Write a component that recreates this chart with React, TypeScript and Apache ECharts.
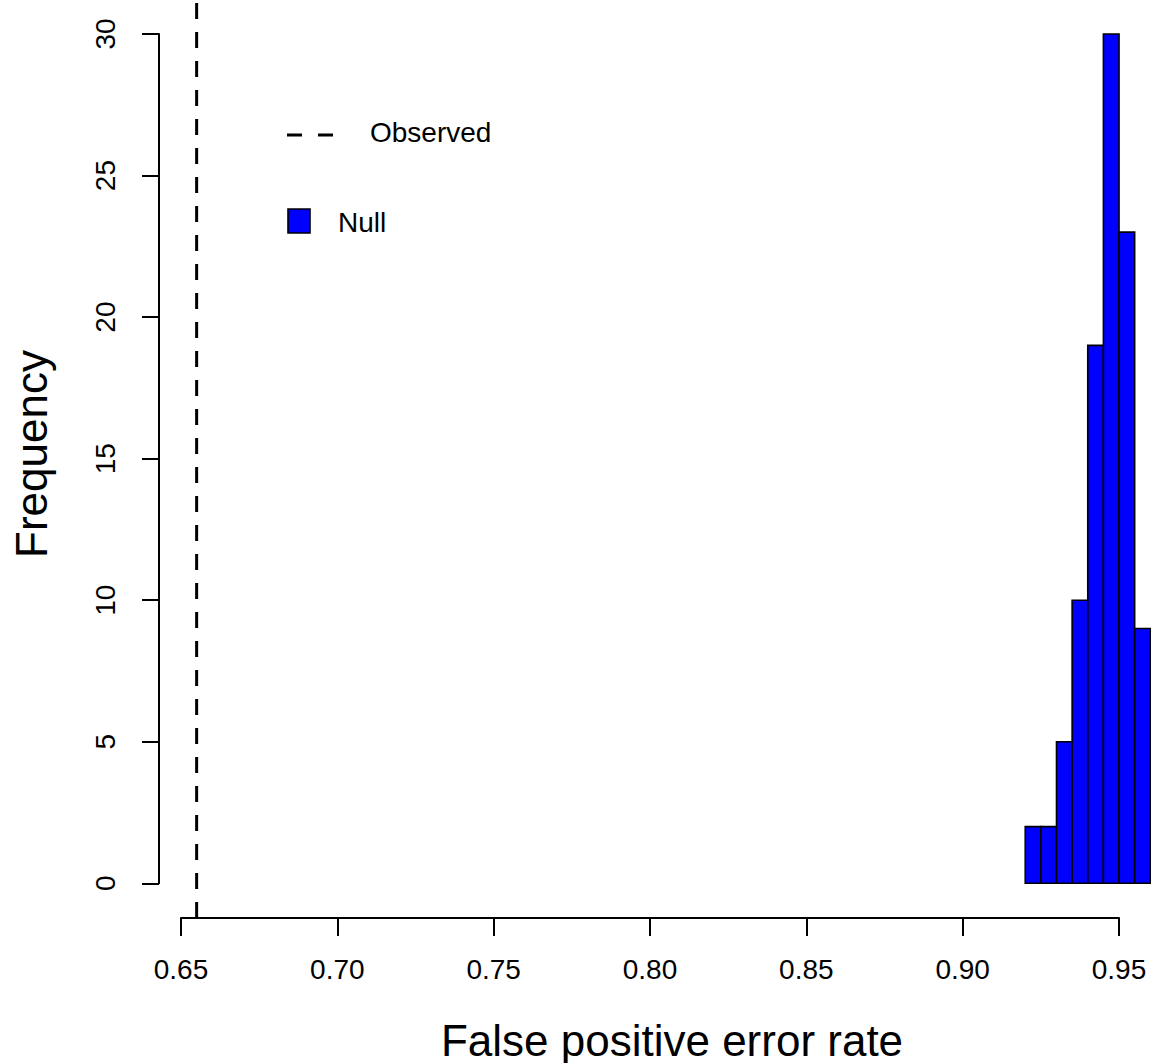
import React, { useEffect, useRef } from "react";
import * as echarts from "echarts";

// Histogram of the null distribution (bin edges and frequencies)
const binEdges = [0.92, 0.925, 0.93, 0.935, 0.94, 0.945, 0.95, 0.955, 0.96];
const counts = [2, 2, 5, 10, 19, 30, 23, 9];
// Observed value (dashed vertical line)
const observed = 0.655;
// Axis ticks
const xTicks = [0.65, 0.7, 0.75, 0.8, 0.85, 0.9, 0.95];
const yTicks = [0, 5, 10, 15, 20, 25, 30];
const xTitle = "False positive error rate";
const yTitle = "Frequency";
const legendLabels = ["Observed", "Null"];

const FONT = "'Liberation Sans', Arial, Helvetica, sans-serif";
const dataXMin = 0.65;
const dataXMax = 0.96;
const dataYMin = -1.226;
const dataYMax = 31.2;

export default function App() {
  const ref = useRef<HTMLDivElement>(null);

  useEffect(() => {
    if (!ref.current) return;
    const chart = echarts.init(ref.current, undefined, { renderer: "svg" });

    const histData = counts.map((c, i) => [binEdges[i], binEdges[i + 1], c]);

    const axisLineStyle = { color: "#000", width: 2 };

    const option: any = {
      animation: false,
      backgroundColor: "#ffffff",
      grid: [
        { left: 181, top: 0, width: 969.3, height: 918 },
        { left: 159, top: 34, width: 20, height: 849.3 },
        { left: 181, top: 0, width: 938, height: 918 },
      ],
      xAxis: [
        { gridIndex: 0, type: "value", min: dataXMin, max: dataXMax, show: false },
        { gridIndex: 1, type: "value", min: 0, max: 1, show: false },
        {
          gridIndex: 2,
          type: "value",
          min: xTicks[0],
          max: xTicks[xTicks.length - 1],
          interval: 0.05,
          axisLine: { show: true, onZero: false, lineStyle: axisLineStyle },
          axisTick: { show: true, length: 18, lineStyle: axisLineStyle },
          axisLabel: {
            show: true,
            margin: 37,
            fontSize: 28,
            fontFamily: FONT,
            color: "#000",
            showMinLabel: true,
            showMaxLabel: true,
            formatter: (v: number) => v.toFixed(2),
          },
          splitLine: { show: false },
        },
      ],
      yAxis: [
        { gridIndex: 0, type: "value", min: dataYMin, max: dataYMax, show: false },
        {
          gridIndex: 1,
          type: "value",
          position: "left",
          min: yTicks[0],
          max: yTicks[yTicks.length - 1],
          interval: 5,
          axisLine: { show: true, onZero: false, lineStyle: axisLineStyle },
          axisTick: { show: true, length: 17, lineStyle: axisLineStyle },
          axisLabel: {
            show: true,
            rotate: 90,
            margin: 40,
            fontSize: 28,
            fontFamily: FONT,
            color: "#000",
            showMinLabel: true,
            showMaxLabel: true,
          },
          splitLine: { show: false },
        },
        { gridIndex: 2, type: "value", min: 0, max: 1, show: false },
      ],
      series: [
        {
          type: "custom",
          name: legendLabels[1],
          xAxisIndex: 0,
          yAxisIndex: 0,
          clip: false,
          encode: { x: [0, 1], y: 2 },
          data: histData,
          renderItem: (params: any, api: any) => {
            const p0 = api.coord([api.value(0), 0]);
            const p1 = api.coord([api.value(1), api.value(2)]);
            return {
              type: "rect",
              shape: {
                x: p0[0],
                y: p1[1],
                width: p1[0] - p0[0],
                height: p0[1] - p1[1],
              },
              style: { fill: "#0000ff", stroke: "#000", lineWidth: 1.6 },
            };
          },
        },
        {
          type: "line",
          name: legendLabels[0],
          xAxisIndex: 0,
          yAxisIndex: 0,
          symbol: "none",
          silent: true,
          data: [
            [observed, dataYMin],
            [observed, dataYMax],
          ],
          lineStyle: { color: "#000", width: 3, type: [16, 13] },
        },
      ],
      graphic: [
        {
          type: "text",
          x: 672,
          y: 1040,
          style: {
            text: xTitle,
            fontSize: 44,
            fontFamily: FONT,
            fill: "#000",
            align: "center",
            verticalAlign: "middle",
          },
        },
        {
          type: "text",
          x: 31,
          y: 454,
          rotation: Math.PI / 2,
          style: {
            text: yTitle,
            fontSize: 44,
            fontFamily: FONT,
            fill: "#000",
            align: "center",
            verticalAlign: "middle",
          },
        },
        {
          type: "line",
          shape: { x1: 287, y1: 135, x2: 336, y2: 135 },
          style: { stroke: "#000", lineWidth: 3, lineDash: [15, 16] },
        },
        {
          type: "text",
          x: 370,
          y: 132,
          style: {
            text: legendLabels[0],
            fontSize: 28,
            fontFamily: FONT,
            fill: "#000",
            align: "left",
            verticalAlign: "middle",
          },
        },
        {
          type: "rect",
          shape: { x: 288, y: 209, width: 22, height: 24 },
          style: { fill: "#0000ff", stroke: "#000", lineWidth: 1.6 },
        },
        {
          type: "text",
          x: 338,
          y: 222,
          style: {
            text: legendLabels[1],
            fontSize: 28,
            fontFamily: FONT,
            fill: "#000",
            align: "left",
            verticalAlign: "middle",
          },
        },
      ],
    };

    chart.setOption(option);
    return () => chart.dispose();
  }, []);

  return (
    <div
      ref={ref}
      style={{ position: "absolute", left: 0, top: 0, width: 1151, height: 1063, background: "#fff" }}
    />
  );
}
